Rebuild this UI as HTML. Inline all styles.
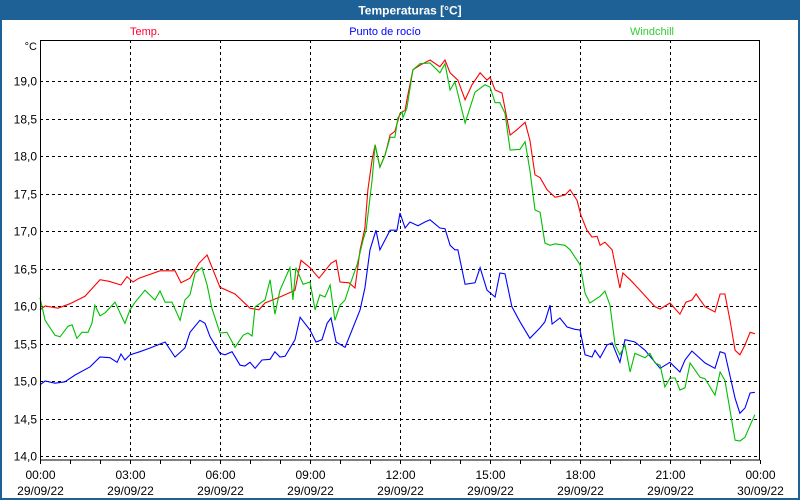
<!DOCTYPE html>
<html><head><meta charset="utf-8"><style>
body{margin:0;background:#fff;}
svg{display:block;font-family:"Liberation Sans",Tahoma,sans-serif;}
</style></head><body>
<svg id="chart" width="800" height="500" viewBox="0 0 800 500" xmlns="http://www.w3.org/2000/svg">
<rect x="0" y="0" width="800" height="500" fill="#1d6197"/>
<rect x="2" y="20" width="796" height="478" fill="#ffffff"/>
<text x="410" y="14.5" text-anchor="middle" font-size="12" font-weight="bold" fill="#ffffff">Temperaturas [°C]</text>
<text x="145" y="35" text-anchor="middle" font-size="11" fill="#ff0030">Temp.</text>
<text x="385" y="35" text-anchor="middle" font-size="11" fill="#0000ff">Punto de rocío</text>
<text x="652" y="35" text-anchor="middle" font-size="11" fill="#33cc33">Windchill</text>
<text x="37" y="50" text-anchor="end" font-size="11" fill="#000">°C</text>
<g id="grid"></g><g id="series"></g><g id="axes"></g>
</svg>
<script>
const yTicks=[14,14.5,15,15.5,16,16.5,17,17.5,18,18.5,19];
const xTickHours=[0,3,6,9,12,15,18,21,24];
const xTickTimes=["00:00","03:00","06:00","09:00","12:00","15:00","18:00","21:00","00:00"];
const xTickDates=["29/09/22","29/09/22","29/09/22","29/09/22","29/09/22","29/09/22","29/09/22","29/09/22","30/09/22"];
const tempT=[0,0.17,0.6,1,1.5,2,2.3,2.7,2.9,3.1,3.3,4,4.5,4.7,5,5.3,5.57,6,6.5,7,7.3,7.5,8,8.5,8.7,9,9.3,9.7,9.87,10,10.3,10.5,10.67,10.83,10.93,11.07,11.17,11.33,11.5,11.67,11.83,12,12.17,12.23,12.43,12.67,13,13.33,13.5,13.67,13.93,14.17,14.4,14.67,14.9,15,15.17,15.4,15.67,15.9,16.17,16.33,16.5,16.67,16.9,17.17,17.5,17.67,17.9,18.03,18.23,18.4,18.57,18.67,18.83,19.07,19.33,19.43,19.67,20,20.5,20.67,21,21.33,21.53,21.73,21.87,22.17,22.5,22.67,22.83,23,23.17,23.33,23.5,23.67,23.83];
const tempV=[15.95,16,15.97,16.03,16.13,16.35,16.33,16.28,16.39,16.32,16.37,16.47,16.47,16.31,16.37,16.57,16.68,16.25,16.16,15.97,15.95,16.04,16.12,16.21,16.61,16.51,16.37,16.57,16.61,16.32,16.31,16.24,16.75,17.04,17.55,17.95,18.15,17.85,18.01,18.28,18.33,18.57,18.61,18.75,19.15,19.21,19.28,19.19,19.28,19.11,19.01,18.75,18.95,19.11,19.01,19.05,18.88,18.84,18.28,18.35,18.45,18.21,17.75,17.71,17.55,17.45,17.48,17.55,17.41,17.21,17.01,16.92,16.93,16.81,16.85,16.75,16.24,16.44,16.35,16.21,15.99,15.96,16.04,15.89,16.05,16.08,16.16,15.99,15.92,16.16,16.16,15.81,15.41,15.35,15.48,15.65,15.63];
const dewT=[0,0.17,0.5,0.83,1.17,1.67,2,2.33,2.57,2.7,2.83,3,3.33,3.67,4.17,4.5,4.83,5,5.33,5.5,5.67,6,6.17,6.4,6.67,6.83,7,7.17,7.4,7.67,7.83,8,8.17,8.5,8.67,9,9.2,9.4,9.57,9.7,9.87,10.17,10.67,10.83,11,11.2,11.33,11.67,11.9,12,12.17,12.33,12.6,12.83,13,13.33,13.5,13.67,13.83,13.93,14.17,14.5,14.67,14.9,15.17,15.33,15.5,15.73,16,16.33,16.67,16.83,17,17.07,17.33,17.57,17.83,18,18.17,18.4,18.5,18.67,18.9,19.07,19.33,19.5,19.83,20.17,20.5,20.67,21,21.33,21.5,21.73,22.17,22.5,22.67,22.83,23.17,23.33,23.5,23.67,23.83];
const dewV=[14.95,15,14.97,14.99,15.08,15.19,15.32,15.31,15.25,15.36,15.28,15.35,15.39,15.44,15.52,15.32,15.44,15.65,15.81,15.77,15.59,15.37,15.35,15.39,15.21,15.2,15.25,15.17,15.28,15.29,15.39,15.32,15.33,15.55,15.85,15.68,15.52,15.55,15.77,15.84,15.52,15.45,15.95,16.24,16.75,17.01,16.75,17.01,17.01,17.24,17.04,17.12,17.07,17.12,17.15,17.04,17.03,16.81,16.75,16.75,16.29,16.31,16.51,16.21,16.12,16.44,16.43,15.99,15.79,15.57,15.71,15.79,16.01,15.76,15.84,15.72,15.69,15.68,15.35,15.32,15.41,15.31,15.48,15.51,15.25,15.55,15.52,15.41,15.25,15.17,15.25,15.12,15.28,15.4,15.24,15.17,15.39,15.37,14.77,14.57,14.64,14.84,14.85];
const windT=[0,0.17,0.5,0.67,0.93,1.07,1.23,1.4,1.6,1.73,1.83,2,2.17,2.5,2.83,3,3.17,3.5,3.83,4,4.17,4.4,4.67,4.83,5,5.17,5.4,5.57,5.73,6,6.23,6.5,6.77,6.93,7.07,7.17,7.5,7.67,7.83,8,8.33,8.43,8.53,8.77,9,9.17,9.33,9.5,9.67,9.83,10,10.17,10.33,10.57,10.77,10.87,11.07,11.17,11.33,11.5,11.67,11.83,11.93,12.07,12.1,12.23,12.43,12.67,13,13.33,13.5,13.67,13.83,14.17,14.5,14.83,15,15.17,15.33,15.5,15.67,16,16.17,16.33,16.5,16.67,16.83,17,17.17,17.5,17.67,18,18.17,18.33,18.67,18.83,19,19.17,19.33,19.5,19.67,19.83,20.17,20.33,20.5,20.67,20.83,21,21.17,21.33,21.5,21.67,22,22.17,22.5,22.67,22.83,23,23.17,23.33,23.5,23.67,23.83];
const windV=[16.11,15.81,15.61,15.59,15.73,15.75,15.57,15.65,15.65,15.77,16.01,15.87,15.91,16.05,15.77,15.95,16.05,16.21,16.08,16.2,16.05,16.05,15.81,16.08,16.15,16.44,16.51,16.28,15.97,15.64,15.65,15.45,15.61,15.64,15.6,15.99,16.08,16.35,15.89,16.21,16.51,16.08,16.51,16.29,16.32,15.95,16.15,16.12,16.28,15.81,16.01,16.08,16.28,16.55,16.88,17.01,17.68,18.15,17.85,18.01,18.25,18.25,18.51,18.59,18.51,18.64,19.15,19.23,19.24,19.11,19.23,18.88,18.99,18.44,18.85,18.95,18.92,18.71,18.71,18.57,18.08,18.09,18.19,17.81,17.28,17.25,16.84,16.81,16.83,16.81,16.75,16.55,16.17,16.04,16.13,16.2,16.01,15.48,15.35,15.48,15.12,15.37,15.31,15.37,15.24,15.21,14.92,15.04,15.04,14.88,14.91,15.24,15.05,15.03,14.81,15.12,15.01,14.61,14.21,14.2,14.25,14.41,14.55];

const X0=40,X1=760,Y14=456,PPU=75;
function xs(h){return X0+h*(X1-X0)/24;}
function ys(v){return Y14-(v-14)*PPU;}
const NS="http://www.w3.org/2000/svg";
function mk(tag,parent,attrs){const e=document.createElementNS(NS,tag);for(const k in attrs)e.setAttribute(k,attrs[k]);parent.appendChild(e);return e;}
const grid=document.getElementById('grid'),series=document.getElementById('series'),axes=document.getElementById('axes');
yTicks.forEach(v=>{
  const y=Math.round(ys(v))+0.5;
  const l=mk('line',grid,{x1:X0,x2:X1,y1:y,y2:y,stroke:'#000','stroke-dasharray':'3,3','stroke-width':1});
  
  
  const t=mk('text',axes,{x:37,y:y+4,'text-anchor':'end','font-size':12,fill:'#000'});
  t.textContent=v.toFixed(1).replace('.',',');
  
  
});
xTickHours.forEach((h,i)=>{
  const x=Math.round(xs(h))+0.5;
  if(h>0&&h<24){
    const l=mk('line',grid,{x1:x,x2:x,y1:40,y2:460,stroke:'#000','stroke-dasharray':'3,3','stroke-width':1});
    
    
  }
  const t1=mk('text',axes,{x:x,y:479,'text-anchor':'middle','font-size':12,fill:'#000'});
  t1.textContent=xTickTimes[i];
  
  
  const t2=mk('text',axes,{x:x,y:495,'text-anchor':'middle','font-size':12,fill:'#000'});
  t2.textContent=xTickDates[i];
  
  
});
for(let h=0;h<=24;h++){
  const x=Math.round(xs(h))+0.5;
  const tk=mk('line',axes,{x1:x,x2:x,y1:460,y2:464,stroke:'#000'});
  
  
}
const frame=mk('rect',axes,{x:40.5,y:40.5,width:719,height:419.5,fill:'none',stroke:'#000','stroke-width':1});


function line(T,V,color,name){
  const p=mk('polyline',series,{points:T.map((t,i)=>xs(t).toFixed(1)+','+ys(V[i]).toFixed(1)).join(' '),fill:'none',stroke:color,'stroke-width':1.1});
  
  
}
line(dewT,dewV,'#0000ff','dewpoint-line');
line(tempT,tempV,'#ff0000','temp-line');
line(windT,windV,'#00c000','windchill-line');
</script>
</body></html>
